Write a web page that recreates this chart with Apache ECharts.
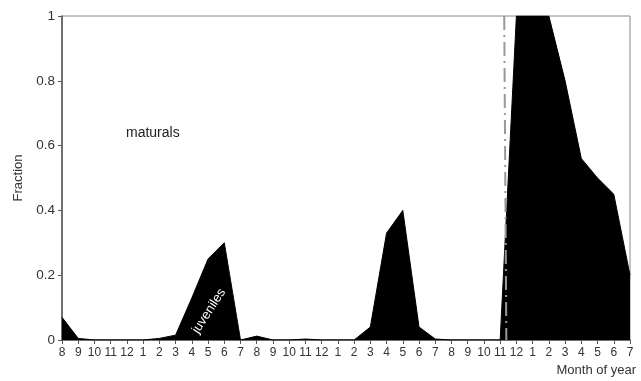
<!DOCTYPE html>
<html lang="en">
<head>
    <meta charset="UTF-8">
    <title>Fraction by month</title>
    <script src="https://cdn.jsdelivr.net/npm/echarts@6/dist/echarts.min.js"></script>
</head>
<body style="margin: 0">
<div id="container" style="width:641px;height:381px;"></div>
<script>
    // month labels along the x axis (Aug year 1 .. Jul year 4)
    var months = ["8","9","10","11","12","1","2","3","4","5","6","7",
                  "8","9","10","11","12","1","2","3","4","5","6","7",
                  "8","9","10","11","12","1","2","3","4","5","6","7"];
    // fraction of juveniles per month
    var juveniles = [0.07, 0.005, 0, 0, 0, 0, 0.005, 0.015, 0.13, 0.25, 0.30, 0.0,
                     0.012, 0, 0, 0.003, 0, 0, 0, 0.04, 0.33, 0.40, 0.04, 0.003,
                     0, 0, 0, 0, 1.0, 1.0, 1.0, 0.80, 0.56, 0.50, 0.45, 0.20];
    // position of the dash-dot marker line (in month index units, top / bottom)
    var markerPos = [27.25, 27.38];

    var pts = juveniles.map(function (v, i) { return [i, v]; });
    var textCol = "#333";
    var font = "Liberation Sans";

    var dom = document.getElementById("container");
    var myChart = echarts.init(dom, null, { renderer: "canvas" });

    var option = {
        animation: false,
        backgroundColor: "#fff",
        grid: { left: 62, right: 11, top: 16, bottom: 41, show: true,
                borderColor: "#888", borderWidth: 1 },
        xAxis: {
            type: "value", min: 0, max: months.length - 1, interval: 1,
            splitLine: { show: false },
            axisLine: { lineStyle: { color: "#555", width: 1.5 } },
            axisTick: { length: 4, lineStyle: { color: "#555" } },
            axisLabel: { color: textCol, fontFamily: font, fontSize: 12, margin: 7,
                formatter: function (v) { return months[v]; } }
        },
        yAxis: {
            type: "value", min: 0, max: 1, interval: 0.2,
            splitLine: { show: false },
            axisLine: { show: true, lineStyle: { color: "#555", width: 1.5 } },
            axisTick: { show: true, length: 4, lineStyle: { color: "#555" } },
            axisLabel: { color: textCol, fontFamily: font, fontSize: 13.5, margin: 7,
                formatter: function (v) { return String(+v.toFixed(1)); } },
            name: "Fraction", nameLocation: "middle", nameGap: 37,
            nameTextStyle: { color: textCol, fontFamily: font, fontSize: 13 }
        },
        series: [
            {
                type: "line", data: pts, symbol: "none", clip: true,
                lineStyle: { color: "#000", width: 1 },
                areaStyle: { color: "#000", opacity: 1 }
            },
            {
                type: "line", symbol: "none",
                data: [[markerPos[0], 1], [markerPos[1], 0]],
                lineStyle: { color: "#999", width: 2, type: [14, 5, 2, 5] },
                z: 3
            }
        ],
        graphic: [
            { type: "text", left: 126, top: 126, z: 100,
              style: { text: "maturals", fill: "#222", font: "14px Liberation Sans" } },
            { type: "text", x: 209, y: 311, rotation: 57 * Math.PI / 180, z: 100,
              style: { text: "juveniles", fill: "#fff", font: "13px Liberation Sans",
                       align: "center", verticalAlign: "middle" } },
            { type: "text", right: 5, top: 364, z: 100,
              style: { text: "Month of year", fill: textCol, font: "13px Liberation Sans" } }
        ]
    };
    myChart.setOption(option);
</script>
</body>
</html>
